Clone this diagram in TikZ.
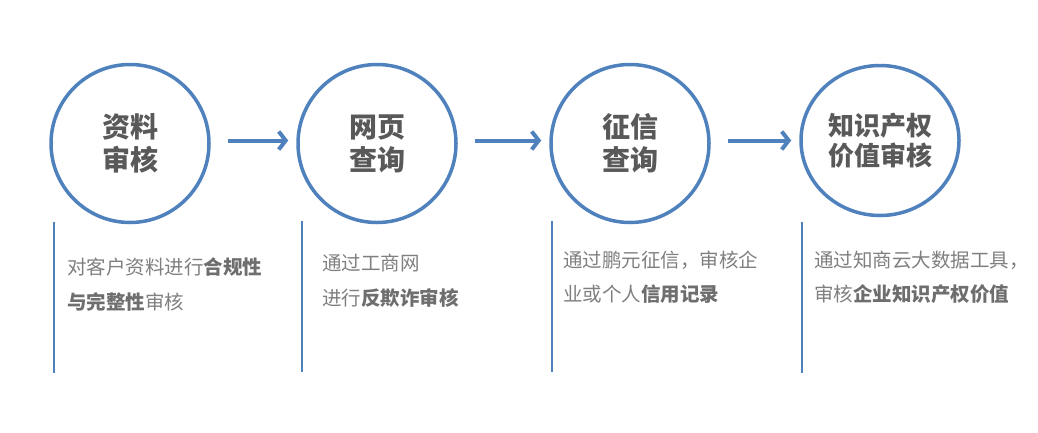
\documentclass[tikz,border=0pt]{standalone}
\usepackage{fontspec}
\setmainfont{Noto Sans CJK SC}
\newfontfamily\cjk{Noto Sans CJK SC}
\usetikzlibrary{arrows.meta,shapes.geometric}
\definecolor{ringblue}{RGB}{79,129,189}
\definecolor{titlegray}{RGB}{89,89,89}
\definecolor{bodygray}{RGB}{127,127,127}
\definecolor{boldgray}{RGB}{110,110,110}
\newcommand{\hl}[1]{{\bfseries\color{boldgray}#1}}
\tikzset{
  stepring/.style={draw=ringblue, line width=3.5pt, circle, minimum size=158pt, inner sep=0pt,
    align=center, text=titlegray, font=\cjk\bfseries\fontsize{28}{33}\selectfont},
  stepring4/.style={draw=ringblue, line width=3.5pt, ellipse, minimum width=158pt, minimum height=150pt, inner sep=0pt,
    align=center, text=titlegray, font=\cjk\bfseries\fontsize{26}{30}\selectfont},
  flowarrow/.style={draw=ringblue, line width=4pt, -{Straight Barb[length=7pt,width=18pt]}},
  sideline/.style={draw=ringblue, line width=2pt},
  bodytext/.style={anchor=base west, align=left, inner sep=0pt, text=bodygray,
    font=\cjk\fontsize{19.5}{35}\selectfont},
  bodytextb/.style={bodytext, font=\cjk\fontsize{19.5}{34}\selectfont}
}
\begin{document}
\begin{tikzpicture}[x=1pt,y=-1pt]
\useasboundingbox (0,0) rectangle (1038,432);
% rings
\node[stepring] (c1) at (130,143.5) {资料\\审核};
\node[stepring] (c2) at (377,143.5) {网页\\查询};
\node[stepring] (c3) at (630,143.5) {征信\\查询};
\node[stepring4] (c4) at (880,140.5) {知识产权\\价值审核};
% arrows
\draw[flowarrow, shorten <=17pt, shorten >=8pt] ([yshift=3pt]c1.east) -- ([yshift=3pt]c2.west);
\draw[flowarrow, shorten <=17pt, shorten >=8pt] ([yshift=3pt]c2.east) -- ([yshift=3pt]c3.west);
\draw[flowarrow, shorten <=17pt, shorten >=8pt] ([yshift=3pt]c3.east) -- ([yshift=0pt]c4.west);
% side lines
\coordinate (l1a) at (54,222); \coordinate (l1b) at (54,373);
\coordinate (l2a) at (302,221); \coordinate (l2b) at (302,372);
\coordinate (l3a) at (552,221); \coordinate (l3b) at (552,372);
\coordinate (l4a) at (802,222); \coordinate (l4b) at (802,373);
\draw[sideline] (l1a) -- (l1b);
\draw[sideline] (l2a) -- (l2b);
\draw[sideline] (l3a) -- (l3b);
\draw[sideline] (l4a) -- (l4b);
% descriptions (anchored at the baseline of the second line)
\node[bodytext] (t1) at (67,309) {对客户资料进行\hl{合规性}\\\hl{与完整性}审核};
\node[bodytext] (t2) at (322,305) {通过工商网\\进行\hl{反欺诈审核}};
\node[bodytextb] (t3) at (563,301) {通过鹏元征信，审核企\\业或个人\hl{信用记录}};
\node[bodytextb] (t4) at (814,301) {通过知商云大数据工具，\\审核\hl{企业知识产权价值}};
\end{tikzpicture}
\end{document}
